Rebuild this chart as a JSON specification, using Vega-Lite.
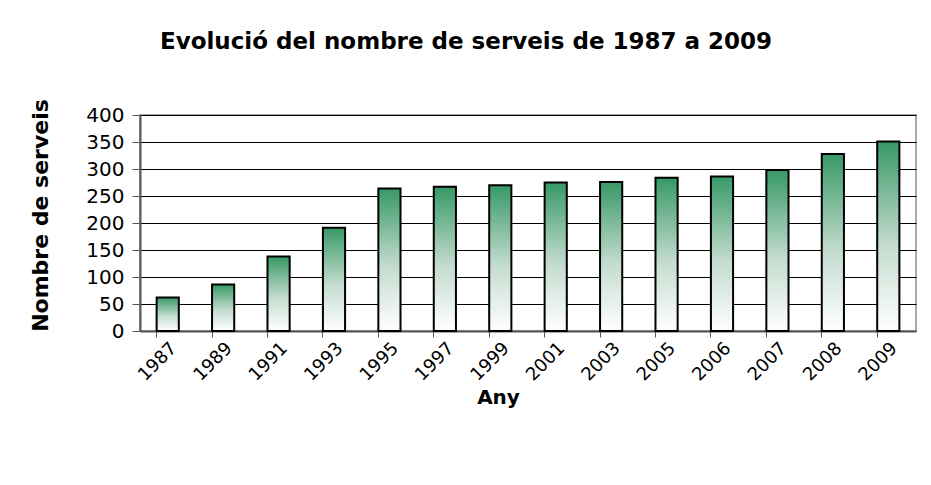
{
  "$schema": "https://vega.github.io/schema/vega-lite/v6.json",
  "autosize": "none",
  "width": 776,
  "height": 216,
  "padding": {"left": 140, "top": 115, "right": 15, "bottom": 154},
  "background": "white",
  "title": {
    "text": "Evolució del nombre de serveis de 1987 a 2009",
    "font": "DejaVu Sans",
    "fontSize": 23,
    "fontWeight": "bold",
    "color": "black",
    "anchor": "middle",
    "frame": "group",
    "dx": -62,
    "offset": 45
  },
  "data": {
    "values": [
      {"Any": "1987", "Serveis": 62},
      {"Any": "1989", "Serveis": 86},
      {"Any": "1991", "Serveis": 138},
      {"Any": "1993", "Serveis": 191},
      {"Any": "1995", "Serveis": 264},
      {"Any": "1997", "Serveis": 267},
      {"Any": "1999", "Serveis": 270},
      {"Any": "2001", "Serveis": 275},
      {"Any": "2003", "Serveis": 276},
      {"Any": "2005", "Serveis": 284},
      {"Any": "2006", "Serveis": 286},
      {"Any": "2007", "Serveis": 298},
      {"Any": "2008", "Serveis": 328},
      {"Any": "2009", "Serveis": 351}
    ]
  },
  "mark": {
    "type": "bar",
    "stroke": "black",
    "strokeWidth": 2,
    "color": {
      "gradient": "linear",
      "x1": 0, "y1": 1, "x2": 0, "y2": 0,
      "stops": [
        {"offset": 0, "color": "#ffffff"},
        {"offset": 0.45, "color": "#c4dccf"},
        {"offset": 1, "color": "#379966"}
      ]
    }
  },
  "encoding": {
    "x": {
      "field": "Any",
      "type": "nominal",
      "sort": null,
      "scale": {"paddingInner": 0.6, "paddingOuter": 0.3},
      "axis": {
        "title": "Any",
        "titleFont": "DejaVu Sans",
        "titleFontSize": 20,
        "titleFontWeight": "bold",
        "titleColor": "black",
        "titleX": 358,
        "titleY": 56,
        "labelAngle": -45,
        "labelFont": "DejaVu Sans",
        "labelFontSize": 18,
        "labelColor": "black",
        "labelPadding": 2,
        "bandPosition": 0,
        "ticks": true,
        "tickSize": 6,
        "tickColor": "#555555",
        "domainColor": "#555555",
        "domainWidth": 2,
        "grid": false
      }
    },
    "y": {
      "field": "Serveis",
      "type": "quantitative",
      "scale": {"domain": [0, 400]},
      "axis": {
        "title": "Nombre de serveis",
        "titleFont": "DejaVu Sans",
        "titleFontSize": 22,
        "titleFontWeight": "bold",
        "titleColor": "black",
        "titlePadding": 12,
        "titleX": -88,
        "titleY": 100,
        "values": [0, 50, 100, 150, 200, 250, 300, 350, 400],
        "labelFont": "DejaVu Sans",
        "labelFontSize": 20,
        "labelColor": "black",
        "labelPadding": 8,
        "tickSize": 8,
        "tickColor": "#555555",
        "domainColor": "#555555",
        "domainWidth": 2,
        "grid": true,
        "gridColor": "black",
        "gridWidth": 1,
        "gridOpacity": 1
      }
    }
  },
  "config": {
    "view": {"stroke": "#a8a8a8", "strokeWidth": 2}
  }
}
